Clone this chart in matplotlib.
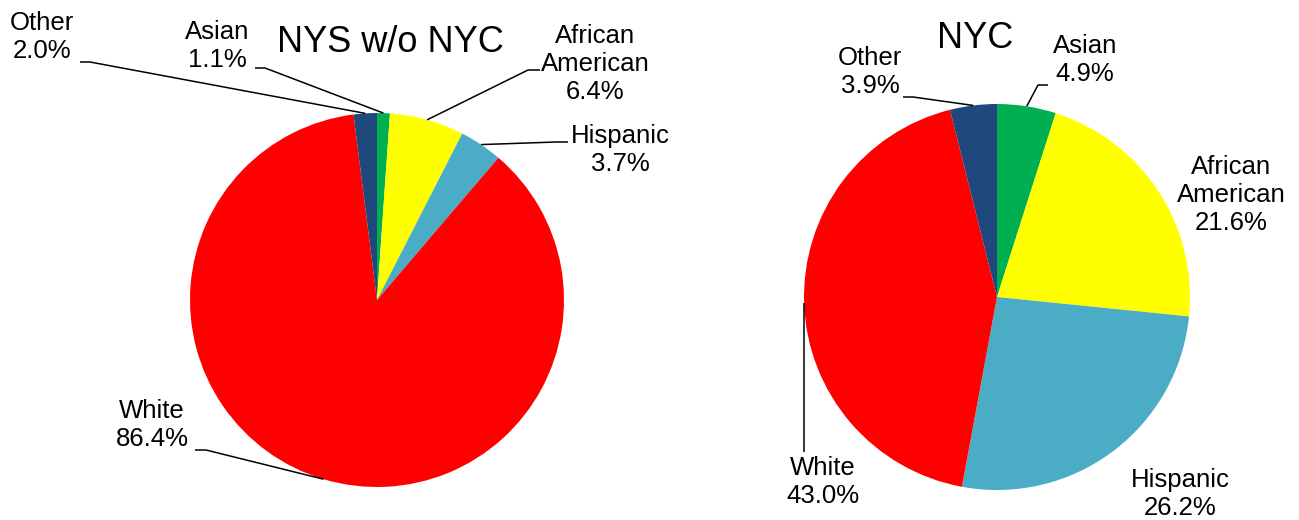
import numpy as np
import matplotlib.pyplot as plt

plt.rcParams['font.family'] = ['Liberation Sans', 'DejaVu Sans']

# data
categories = ["Asian", "African\nAmerican", "Hispanic", "White", "Other"]
nys_values = [1.1, 6.4, 3.7, 86.4, 2.0]
nyc_values = [4.9, 21.6, 26.2, 43.0, 3.9]
colors = ["#00B050", "#FFFF00", "#4BACC6", "#FF0000", "#1F497D"]

W, H = 1299, 520

fig = plt.figure(figsize=(W / 100, H / 100), dpi=100)
ax = fig.add_axes([0, 0, 1, 1])


def p(x, y):
    # pixel coords (top-left origin) -> axes data coords
    return x, H - y


# layout: pie centre/radius, title, label centres, leader anchors
charts = [
    dict(values=nys_values, title="NYS w/o NYC", center=(377, 300), radius=187,
         title_pos=(390, 42),
         labels=[(217, 46), (595, 64), (620, 150), (152, 425), (42, 37)],
         anchors=[((255, 68), (265, 68)), ((540, 70), (528, 70)),
                  ((568, 142), (556, 142)), ((195, 450), (206, 450)),
                  ((80, 62), (90, 62))]),
    dict(values=nyc_values, title="NYC", center=(997, 297), radius=193,
         title_pos=(975, 38),
         labels=[(1085, 60), (1231, 195), (1180, 494), (823, 482), (870, 72)],
         anchors=[((1048, 85), (1038, 85)), None, None,
                  ((803, 452), None), ((903, 97), (913, 97))]),
]

for c in charts:
    cx, cy = p(*c["center"])
    wedges, _ = ax.pie(c["values"], colors=colors, startangle=90, counterclock=False,
                       center=(cx, cy), radius=c["radius"],
                       wedgeprops=dict(linewidth=0))
    ax.text(*p(*c["title_pos"]), c["title"], ha="center", va="center", fontsize=26)
    for w, cat, val, lab, anc in zip(wedges, categories, c["values"],
                                     c["labels"], c["anchors"]):
        ax.text(*p(*lab), f"{cat}\n{val:.1f}%", ha="center", va="center",
                fontsize=18.5, linespacing=1.22)
        if anc is None:
            continue
        th = np.deg2rad((w.theta1 + w.theta2) / 2)
        ex = cx + c["radius"] * np.cos(th)
        ey = cy + c["radius"] * np.sin(th)
        start, stub = anc
        if stub is None:
            xs = [ex, ex]
            ys = [p(*start)[1], ey]
        else:
            xs = [p(*start)[0], p(*stub)[0], ex]
            ys = [p(*start)[1], p(*stub)[1], ey]
        ax.plot(xs, ys, color="black", lw=1.1, solid_capstyle="butt")

ax.set_xlim(0, W)
ax.set_ylim(0, H)
ax.set_aspect("equal")
ax.axis("off")

fig.savefig("out.png", dpi=100)
